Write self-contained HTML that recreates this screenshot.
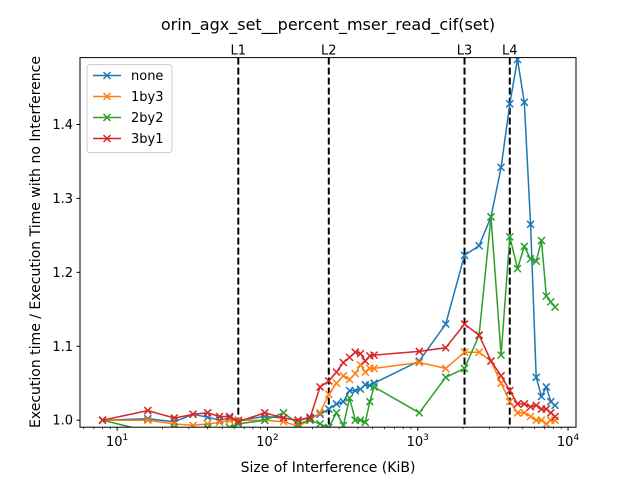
<!DOCTYPE html>
<html><head><meta charset="utf-8"><style>
html,body{margin:0;padding:0;background:#fff;}
svg text{font-family:"DejaVu Sans","Liberation Sans",sans-serif;}
</style></head><body>
<svg id="chart" width="640" height="480" viewBox="0 0 640 480" xmlns="http://www.w3.org/2000/svg">
<defs><clipPath id="clip"><rect x="80" y="57.6" width="496" height="369.6"/></clipPath></defs>
<rect x="0" y="0" width="640" height="480" fill="#fff"/>
<text x="328" y="30" font-size="16" text-anchor="middle">orin_agx_set__percent_mser_read_cif(set)</text>
<g id="grid"></g>
<g id="marks" clip-path="url(#clip)"></g>
<rect x="80" y="57.6" width="496" height="369.6" fill="none" stroke="#000" stroke-width="1"/>
<g id="axes"></g>
<text x="328" y="472" font-size="14" text-anchor="middle">Size of Interference (KiB)</text>
<text transform="translate(40,242) rotate(-90)" font-size="14" text-anchor="middle">Execution time / Execution Time with no Interference</text>
<g id="legend"></g>
</svg>
<script>
const sizes = [8,16,24,32,40,48,56,64,96,128,160,192,224,256,288,320,352,384,416,448,480,512,1024,1536,2048,2560,3072,3584,4096,4608,5120,5632,6144,6656,7168,7680,8192];
const seriesNames = ["none","1by3","2by2","3by1"];
const none = [1.0,1.002,0.998,1.008,1.004,1.0,1.003,1.0,1.005,1.003,1.0,1.004,1.008,1.015,1.022,1.025,1.04,1.04,1.042,1.048,1.047,1.05,1.08,1.13,1.223,1.236,1.275,1.342,1.428,1.488,1.43,1.265,1.058,1.032,1.045,1.025,1.02];
const by13 = [1.0,1.0,0.995,0.993,0.995,0.997,1.0,1.0,1.0,0.998,0.992,1.0,1.01,1.035,1.05,1.06,1.055,1.063,1.075,1.065,1.07,1.07,1.078,1.07,1.092,1.092,1.08,1.05,1.025,1.01,1.01,1.005,1.0,1.0,0.995,1.0,1.0];
const by22 = [1.0,0.985,0.99,0.985,0.99,0.985,0.99,0.995,1.0,1.01,0.995,1.0,0.995,0.99,1.01,0.993,1.03,1.0,1.0,0.997,1.025,1.045,1.01,1.058,1.07,1.115,1.275,1.088,1.248,1.205,1.235,1.218,1.215,1.243,1.168,1.16,1.153];
const by31 = [1.0,1.013,1.003,1.008,1.01,1.005,1.005,0.998,1.01,1.003,1.0,1.003,1.045,1.053,1.065,1.078,1.085,1.092,1.09,1.08,1.087,1.088,1.093,1.098,1.13,1.115,1.08,1.06,1.04,1.022,1.022,1.018,1.02,1.015,1.015,1.01,1.005];
const yTicks = [1.0,1.1,1.2,1.3,1.4];
const xMajor = [1,2,3,4];
const cacheNames = ["L1","L2","L3","L4"];
const cacheSizes = [64,256,2048,4096];

const L=80,R=576,T=57.6,B=427.2;
const xmin=0.753,xmax=4.053,ymin=0.9905,ymax=1.4905;
function xs(v){return L+(Math.log10(v)-xmin)/(xmax-xmin)*(R-L);}
function ys(v){return B-(v-ymin)/(ymax-ymin)*(B-T);}
const NS="http://www.w3.org/2000/svg";
function mk(tag,attrs,parent){const e=document.createElementNS(NS,tag);for(const k in attrs)e.setAttribute(k,attrs[k]);parent.appendChild(e);return e;}
const axes=document.getElementById('axes'),marks=document.getElementById('marks'),legend=document.getElementById('legend');

yTicks.forEach(v=>{
  const y=ys(v);
  const t=mk('line',{x1:L-3.5,x2:L,y1:y,y2:y,stroke:'#000'},axes);
  
  
  const tx=mk('text',{x:L-7,y:y+4.5,'font-size':'13','text-anchor':'end'},axes);
  tx.textContent=v.toFixed(1);
  
  
});
for(let d=0;d<=4;d++){for(let m=1;m<10;m++){
  const v=m*Math.pow(10,d);const lv=Math.log10(v);
  if(lv<xmin||lv>xmax)continue;
  const x=xs(v);const major=(m===1);
  const t=mk('line',{x1:x,x2:x,y1:B,y2:B+(major?3.5:2),stroke:'#000','stroke-width':major?1:0.7},axes);
  
  
}}
xMajor.forEach(p=>{
  const x=xs(Math.pow(10,p));
  const tx=mk('text',{x:x,y:B+19,'font-size':'13','text-anchor':'middle'},axes);
  tx.innerHTML='10<tspan dy="-6" font-size="9">'+p+'</tspan>';
  
  
});
cacheSizes.forEach((s,i)=>{
  const x=xs(s);
  const ln=mk('line',{x1:x,x2:x,y1:T,y2:B,stroke:'#000','stroke-width':2,'stroke-dasharray':'7,3'},marks);
  
  
  const tx=mk('text',{x:x,y:T-3,'font-size':'13','text-anchor':'middle'},axes);
  tx.textContent=cacheNames[i];
  
  
});
const colors=['#1f77b4','#ff7f0e','#2ca02c','#d62728'];
const data=[none,by13,by22,by31];
function xmark(g,x,y,c){mk('path',{d:`M${x-3.5},${y-3.5}L${x+3.5},${y+3.5}M${x-3.5},${y+3.5}L${x+3.5},${y-3.5}`,stroke:c,'stroke-width':1.5,fill:'none'},g);}
data.forEach((vals,i)=>{
  const g=mk('g',{},marks);
  
  
  const pts=vals.map((v,j)=>xs(sizes[j]).toFixed(1)+','+ys(v).toFixed(1)).join(' ');
  const pl=mk('polyline',{points:pts,fill:'none',stroke:colors[i],'stroke-width':1.5,'stroke-linejoin':'round'},g);
  
  
  vals.forEach((v,j)=>xmark(g,xs(sizes[j]),ys(v),colors[i]));
});
const lb=mk('rect',{x:87,y:64.6,width:85,height:88,rx:3,fill:'#fff','fill-opacity':0.8,stroke:'#ccc'},legend);


seriesNames.forEach((n,i)=>{
  const y=75.5+i*21;
  const g=mk('g',{},legend);
  
  
  mk('line',{x1:93,x2:121,y1:y,y2:y,stroke:colors[i],'stroke-width':1.5},g);
  xmark(g,107,y,colors[i]);
  const tx=mk('text',{x:131,y:y+4.5,'font-size':'13'},g);
  tx.textContent=n;
});
</script>
</body></html>
